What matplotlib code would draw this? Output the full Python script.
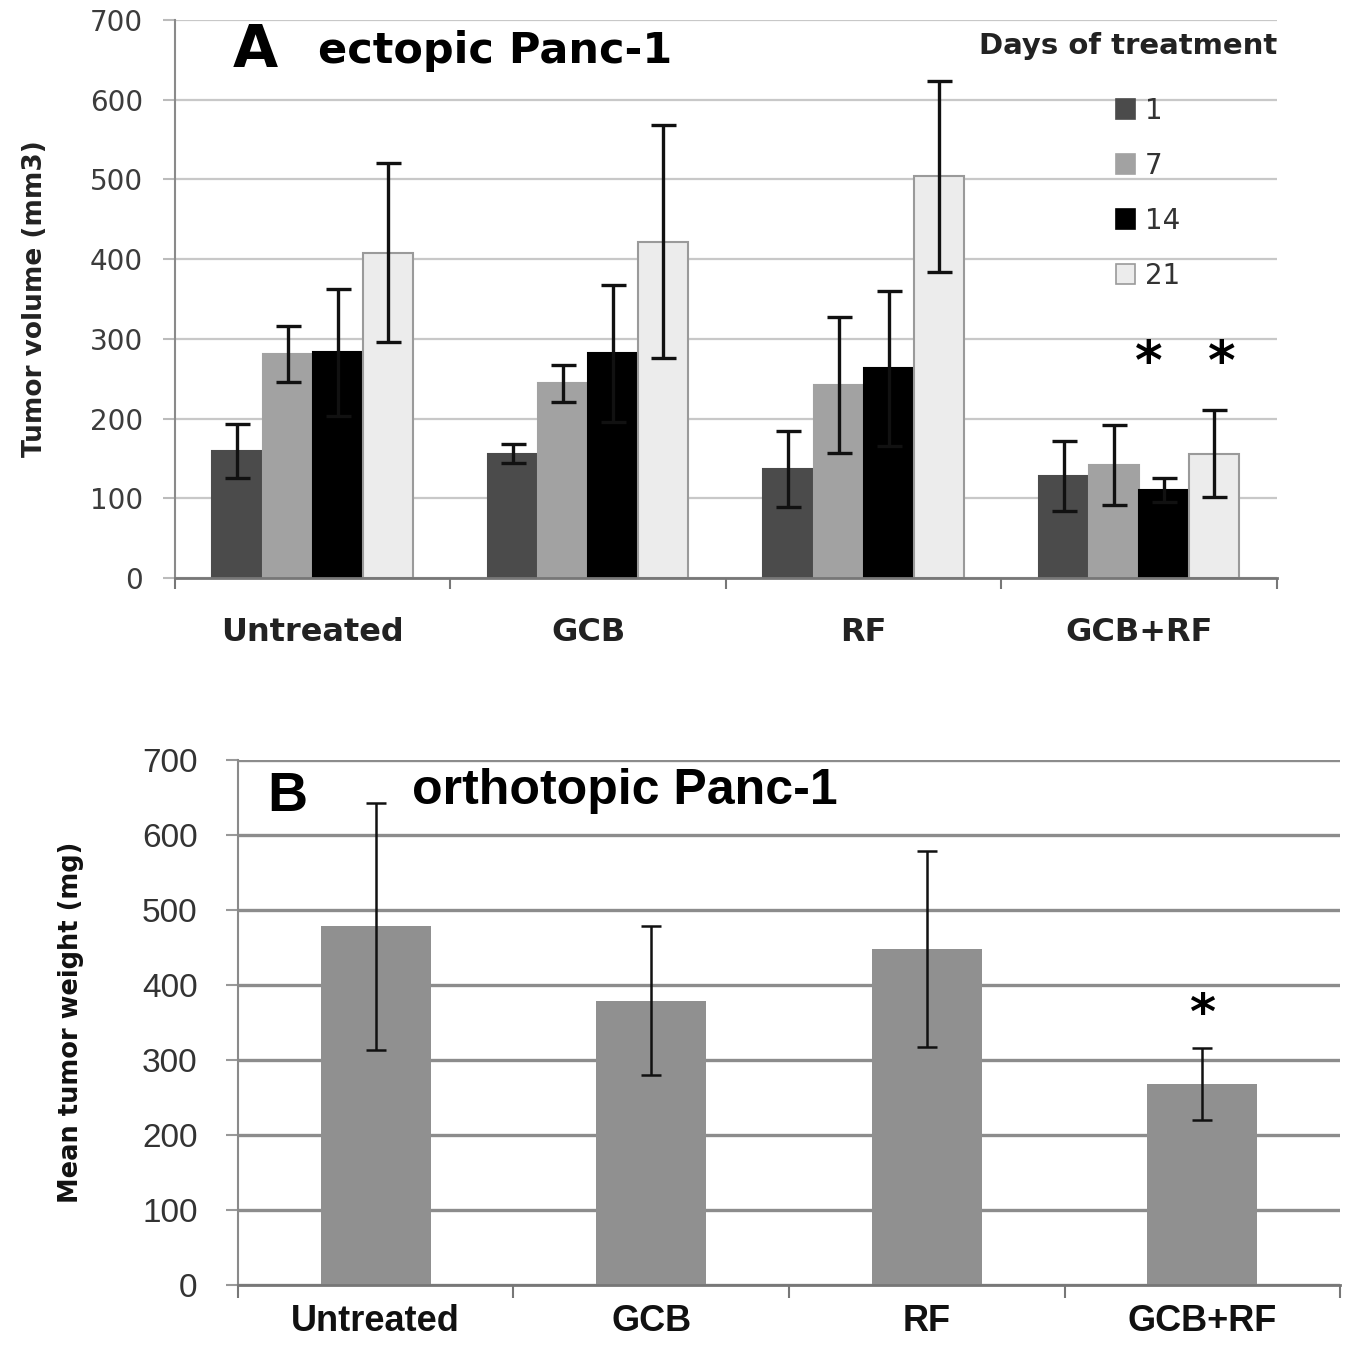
import matplotlib
matplotlib.use("Agg")
import matplotlib.pyplot as plt
import numpy as np
from matplotlib.patches import Patch

# ---------------- data ----------------
categories = ["Untreated", "GCB", "RF", "GCB+RF"]
days = ["1", "7", "14", "21"]

vol_day1 = [159, 156, 137, 128]
vol_day7 = [281, 244, 242, 142]
vol_day14 = [283, 282, 263, 110]
vol_day21 = [408, 422, 504, 156]

err_day1 = [34, 12, 48, 44]
err_day7 = [35, 23, 85, 50]
err_day14 = [80, 86, 97, 15]
err_day21 = [112, 146, 120, 55]

weight_mean = [478, 379, 448, 268]
weight_err = [165, 99, 130, 48]

yticks = [0, 100, 200, 300, 400, 500, 600, 700]

# ---------------- figure ----------------
fig = plt.figure(figsize=(13.53, 13.47), dpi=100)
plt.rcParams['font.family'] = ['DejaVu Sans']

# ======== Panel A ========
axA = fig.add_axes([0.1293, 0.5709, 0.8145, 0.4143])
x = np.arange(len(categories))
bw = 0.182
series = [vol_day1, vol_day7, vol_day14, vol_day21]
errs = [err_day1, err_day7, err_day14, err_day21]
colors = ["#4b4b4b", "#a2a2a2", "#000000", "#ececec"]
edges = ["#4b4b4b", "#a2a2a2", "#000000", "#9a9a9a"]
for i, (vals, e) in enumerate(zip(series, errs)):
    pos = x + (i - 1.5) * bw
    axA.bar(pos, vals, width=bw, color=colors[i], edgecolor=edges[i],
            linewidth=1.5, zorder=2)
    axA.errorbar(pos, vals, yerr=e, fmt='none', ecolor='#111111',
                 elinewidth=2.4, capsize=9, capthick=2.4, zorder=3)

axA.set_xlim(-0.5, 3.5)
axA.set_ylim(0, 700)
axA.set_yticks(yticks)
axA.set_yticklabels([str(t) for t in yticks], fontsize=20, color='#3c3c3c')
axA.yaxis.grid(True, color='#c8c8c8', linewidth=1.6, zorder=0)
axA.set_axisbelow(True)
axA.set_xticks(x)
axA.set_xticklabels(categories, fontsize=23, fontweight='bold', color='#222222')
axA.set_xticks(np.arange(-0.5, 4.0, 1.0), minor=True)
axA.tick_params(axis='x', which='major', length=0, pad=28)
axA.tick_params(axis='x', which='minor', length=8, width=1.5, color='#777777')
axA.tick_params(axis='y', length=9, width=1.5, color='#bbbbbb', pad=14)
for s in ['top', 'right']:
    axA.spines[s].set_visible(False)
axA.spines['left'].set_color('#8a8a8a')
axA.spines['left'].set_linewidth(1.5)
axA.spines['bottom'].set_color('#777777')
axA.spines['bottom'].set_linewidth(2)
axA.set_ylabel("Tumor volume (mm3)", fontsize=19, fontweight='bold',
               color='#222222', labelpad=30)

axA.text(0.052, 0.945, "A", transform=axA.transAxes, fontsize=42,
         fontweight='bold', va='center', ha='left')
axA.text(0.13, 0.945, "ectopic Panc-1", transform=axA.transAxes, fontsize=31,
         fontweight='bold', va='center', ha='left')
axA.text(1.0, 0.953, "Days of treatment", transform=axA.transAxes, fontsize=21,
         fontweight='bold', va='center', ha='right', color='#222222')

handles = [Patch(facecolor=colors[i], edgecolor=edges[i], linewidth=1.2)
           for i in range(4)]
axA.legend(handles, days, loc='upper left', bbox_to_anchor=(0.836, 0.897),
           frameon=False, fontsize=20, handlelength=0.7, handleheight=0.7,
           labelspacing=0.97, handletextpad=0.35, labelcolor='#333333',
           borderpad=0.2)

# asterisks
axA.text(3 + 0.2 * bw, 268, "*", fontsize=38, fontweight='bold',
         ha='center', va='center')
axA.text(3 + 1.65 * bw, 268, "*", fontsize=38, fontweight='bold',
         ha='center', va='center')

# ======== Panel B ========
axB = fig.add_axes([0.1759, 0.046, 0.8145, 0.3898])
axB.bar(x, weight_mean, width=0.4, color='#909090', zorder=2)
axB.errorbar(x, weight_mean, yerr=weight_err, fmt='none', ecolor='#111111',
             elinewidth=1.8, capsize=7, capthick=1.8, zorder=3)
axB.set_xlim(-0.5, 3.5)
axB.set_ylim(0, 700)
axB.set_yticks(yticks)
axB.set_yticklabels([str(t) for t in yticks], fontsize=24, color='#333333',
                    family='Liberation Sans')
axB.yaxis.grid(True, color='#8c8c8c', linewidth=2.4, zorder=0)
axB.set_axisbelow(True)
axB.set_xticks(x)
axB.set_xticklabels(categories, fontsize=26, fontweight='bold', color='#111111',
                    family='Liberation Sans')
axB.set_xticks(np.arange(-0.5, 4.0, 1.0), minor=True)
axB.tick_params(axis='x', which='major', length=0, pad=14)
axB.tick_params(axis='x', which='minor', length=9, width=1.5, color='#777777')
axB.tick_params(axis='y', length=9, width=1.5, color='#999999', pad=20)
for s in ['top', 'right']:
    axB.spines[s].set_visible(False)
axB.spines['left'].set_color('#8a8a8a')
axB.spines['left'].set_linewidth(1.5)
axB.spines['bottom'].set_color('#777777')
axB.spines['bottom'].set_linewidth(2)
axB.set_ylabel("Mean tumor weight (mg)", fontsize=18.5, fontweight='bold',
               color='#111111', labelpad=42)

axB.text(0.027, 0.93, "B", transform=axB.transAxes, fontsize=40,
         fontweight='bold', va='center', ha='left', family='Liberation Sans')
axB.text(0.158, 0.94, "orthotopic Panc-1", transform=axB.transAxes, fontsize=36,
         fontweight='bold', va='center', ha='left', family='Liberation Sans')
axB.text(3, 360, "*", fontsize=36, fontweight='bold', ha='center', va='center')

fig.savefig("out.png", dpi=100)
